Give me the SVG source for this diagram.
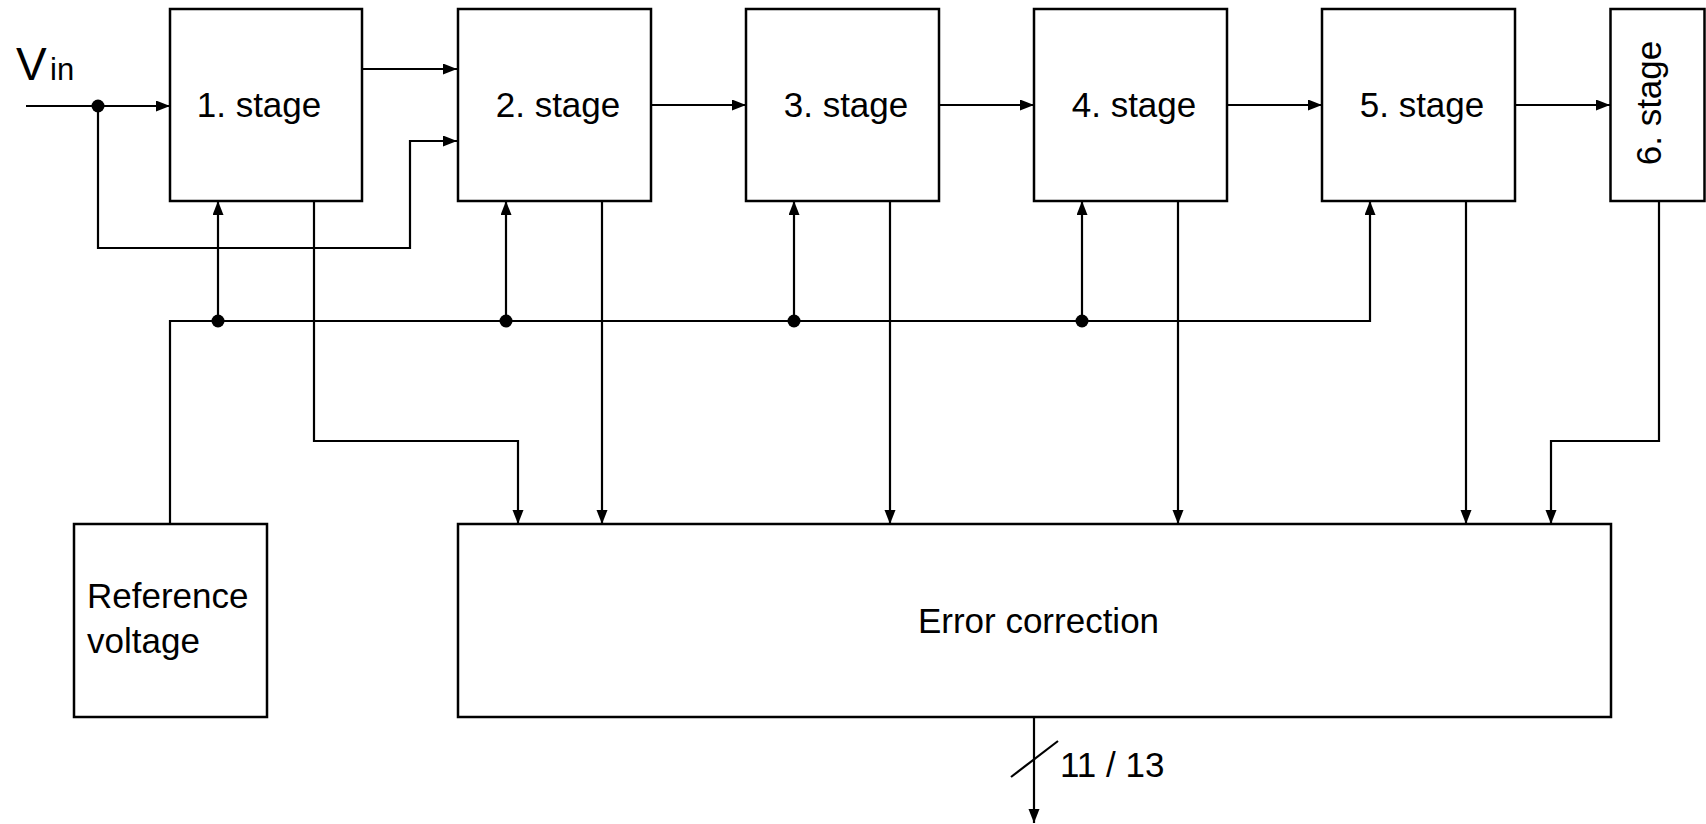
<svg xmlns="http://www.w3.org/2000/svg" width="1706" height="824" viewBox="0 0 1706 824">
<style>
.box{fill:#fff;stroke:#000;stroke-width:2.5}
.ln{fill:none;stroke:#000;stroke-width:2.2}
.t{font-family:"Liberation Sans",Arial,sans-serif;font-size:35px;fill:#000}
.dot{fill:#000}
</style>
<defs>
<marker id="ah" markerUnits="userSpaceOnUse" markerWidth="15" markerHeight="12" refX="14" refY="5.5" orient="auto">
<path d="M0,0 L14,5.5 L0,11 z" fill="#000"/>
</marker>
</defs>
<rect width="1706" height="824" fill="#fff"/>
<g id="connectors">
<path class="ln" d="M26,106 H170" marker-end="url(#ah)"/>
<path class="ln" d="M98,106 V248 H410 V141 H457" marker-end="url(#ah)"/>
<path class="ln" d="M362,69 H457" marker-end="url(#ah)"/>
<path class="ln" d="M651,105 H746" marker-end="url(#ah)"/>
<path class="ln" d="M939,105 H1034" marker-end="url(#ah)"/>
<path class="ln" d="M1227,105 H1322" marker-end="url(#ah)"/>
<path class="ln" d="M1515,105 H1610" marker-end="url(#ah)"/>
<path class="ln" d="M170,524 V321 H1370 V201" marker-end="url(#ah)"/>
<path class="ln" d="M218,321 V201" marker-end="url(#ah)"/>
<path class="ln" d="M506,321 V201" marker-end="url(#ah)"/>
<path class="ln" d="M794,321 V201" marker-end="url(#ah)"/>
<path class="ln" d="M1082,321 V201" marker-end="url(#ah)"/>
<path class="ln" d="M314,201 V441 H518 V524" marker-end="url(#ah)"/>
<path class="ln" d="M602,201 V524" marker-end="url(#ah)"/>
<path class="ln" d="M890,201 V524" marker-end="url(#ah)"/>
<path class="ln" d="M1178,201 V524" marker-end="url(#ah)"/>
<path class="ln" d="M1466,201 V524" marker-end="url(#ah)"/>
<path class="ln" d="M1659,201 V441 H1551 V524" marker-end="url(#ah)"/>
<path class="ln" d="M1034,717 V823" marker-end="url(#ah)"/>
<path class="ln" d="M1011,777 L1058,741"/>
<circle class="dot" cx="98" cy="106" r="6.5"/>
<circle class="dot" cx="218" cy="321" r="6.5"/>
<circle class="dot" cx="506" cy="321" r="6.5"/>
<circle class="dot" cx="794" cy="321" r="6.5"/>
<circle class="dot" cx="1082" cy="321" r="6.5"/>
<text class="t" x="1060" y="777">11 / 13</text>
</g>
<g id="vin">
<text class="t" x="16" y="80" style="font-size:46px">V</text>
<text class="t" x="50" y="80" style="font-size:31px">in</text>
</g>
<g id="stage1"><rect class="box" x="170" y="9" width="192" height="192"/><text class="t" x="259" y="117" text-anchor="middle">1. stage</text></g>
<g id="stage2"><rect class="box" x="458" y="9" width="193" height="192"/><text class="t" x="558" y="117" text-anchor="middle">2. stage</text></g>
<g id="stage3"><rect class="box" x="746" y="9" width="193" height="192"/><text class="t" x="846" y="117" text-anchor="middle">3. stage</text></g>
<g id="stage4"><rect class="box" x="1034" y="9" width="193" height="192"/><text class="t" x="1134" y="117" text-anchor="middle">4. stage</text></g>
<g id="stage5"><rect class="box" x="1322" y="9" width="193" height="192"/><text class="t" x="1422" y="117" text-anchor="middle">5. stage</text></g>
<g id="stage6"><rect class="box" x="1610.5" y="9" width="94" height="192"/><text class="t" transform="translate(1661,103) rotate(-90)" text-anchor="middle">6. stage</text></g>
<g id="reference"><rect class="box" x="74" y="524" width="193" height="193"/><text class="t" x="87" y="608">Reference</text><text class="t" x="87" y="653">voltage</text></g>
<g id="error"><rect class="box" x="458" y="524" width="1153" height="193"/><text class="t" x="1038.5" y="633" text-anchor="middle">Error correction</text></g>
</svg>
